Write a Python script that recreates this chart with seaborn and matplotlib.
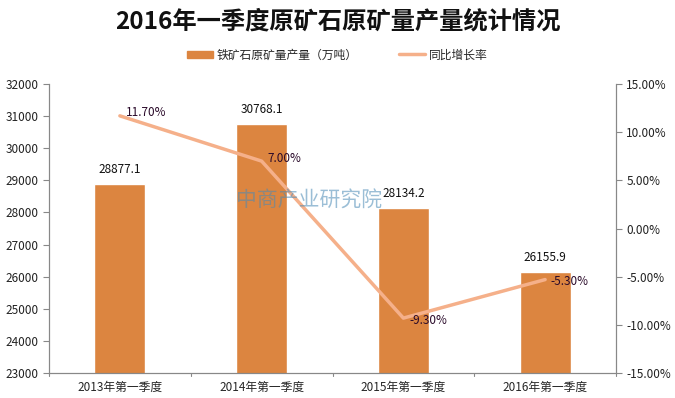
import numpy as np
import pandas as pd
import seaborn as sns
import matplotlib.pyplot as plt
from matplotlib.lines import Line2D
from matplotlib.patches import Patch

quarters = ['2013年第一季度', '2014年第一季度', '2015年第一季度', '2016年第一季度']
output = [28877.1, 30768.1, 28134.2, 26155.9]
growth = [11.70, 7.00, -9.30, -5.30]

bar_color = '#DC8540'
line_color = '#F5B08A'

sns.set_style('white')
plt.rcParams['font.family'] = ['Noto Sans CJK SC', 'DejaVu Sans']

df = pd.DataFrame({'季度': quarters, '产量': output, '增长率': growth})

fig = plt.figure(figsize=(6.75, 3.98), dpi=100)
ax = fig.add_axes([0.0726, 0.0628, 0.84, 0.726])

sns.barplot(data=df, x='季度', y='产量', color=bar_color, width=0.36,
            saturation=1, ax=ax)
ax.set_ylim(23000, 32000)
ax.set_yticks(np.arange(23000, 32001, 1000))
ax.set_xlim(-0.5, 3.5)
ax.set_xlabel('')
ax.set_ylabel('')
for i, v in enumerate(df['产量']):
    ax.text(i, v + 250, f'{v:.1f}', ha='center', va='bottom', fontsize=8.5,
            color='#111111')

ax2 = ax.twinx()
sns.lineplot(x=np.arange(len(growth)), y=df['增长率'], color=line_color,
             linewidth=2.5, ax=ax2)
ax2.set_ylim(-15, 15)
ax2.set_yticks(np.arange(-15, 15.1, 5))
ax2.set_yticklabels([f'{t:.2f}%' for t in np.arange(-15, 15.1, 5)])
ax2.set_ylabel('')
for i, g in enumerate(growth):
    dy = 0.3 if g > 0 else -0.2
    ax2.text(i + 0.04, g + dy, f'{g:.2f}%', ha='left', va='center',
             fontsize=8.5, color='#2a0a2a')

# x ticks between categories
ax.set_xticks([0, 1, 2, 3])
ax.set_xticklabels(quarters, fontsize=8.5)
ax.tick_params(axis='x', length=0, pad=6)
for b in [-0.5, 0.5, 1.5, 2.5, 3.5]:
    ax.plot([b, b], [0, -0.012], transform=ax.get_xaxis_transform(),
            color='#888888', lw=0.8, clip_on=False)

for a in (ax, ax2):
    for s in a.spines.values():
        s.set_color('#888888')
        s.set_linewidth(0.8)
    a.spines['top'].set_visible(False)
ax.tick_params(axis='y', left=True, length=4, color='#888888', labelsize=8.5,
               labelcolor='#222222')
ax2.tick_params(axis='y', right=True, length=4, color='#888888', labelsize=8.5,
                labelcolor='#222222')

fig.text(0.5, 0.945, '2016年一季度原矿石原矿量产量统计情况', ha='center',
         va='center', fontsize=17.5, fontweight='bold', color='#111111')

handles = [Patch(color=bar_color), Line2D([], [], color=line_color, lw=2.5)]
fig.legend(handles, ['铁矿石原矿量产量（万吨）', '同比增长率'], loc='center',
           bbox_to_anchor=(0.5, 0.862), ncol=2, frameon=False, fontsize=8.5,
           handlelength=2.2, handleheight=0.6, columnspacing=3.5,
           handletextpad=0.3)

fig.text(0.458, 0.495, '中商产业研究院', ha='center', va='center', fontsize=15,
         color='#4a8ab5', alpha=0.55)

fig.savefig('out.png', dpi=100)
